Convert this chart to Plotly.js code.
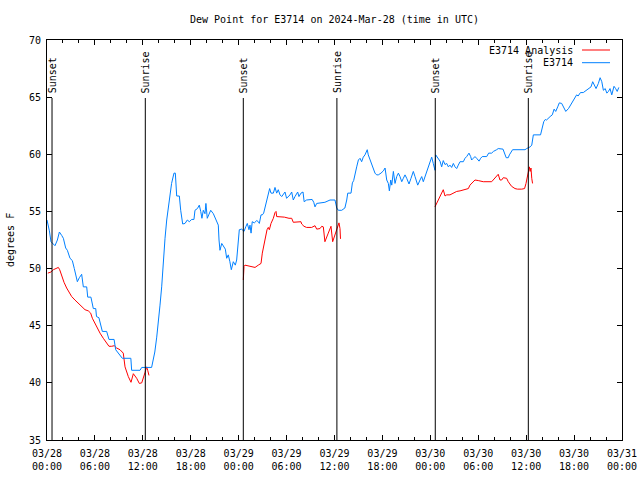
<!DOCTYPE html>
<html>
<head>
<meta charset="utf-8">
<script src="https://cdn.plot.ly/plotly-3.0.1.min.js"></script>
<style>
  html, body { margin: 0; padding: 0; background: #ffffff; }
  #chart { width: 640px; height: 480px; }
</style>
</head>
<body>
<div id="chart"></div>
<script>
// ---- data (hours since 2024-03-28 00:00 UTC, dew point in degrees F) ----
const blueHours = [0,0.3,0.5,0.7,1.0,1.3,1.55,1.84,2.05,2.34,2.55,2.88,3.17,3.42,3.8,4.05,4.34,4.55,4.97,5.1,5.5,5.8,6.1,6.2,6.5,6.93,7.47,7.76,8.4,8.6,9.14,9.43,10.5,10.6,11.65,11.86,13.1,13.3,13.5,13.74,13.94,14.15,14.36,14.57,14.78,14.99,15.19,15.4,15.6,15.9,16.07,16.24,16.57,16.74,16.99,17.28,17.57,17.82,18.12,18.4,18.53,18.83,19.07,19.25,19.4,19.57,19.78,19.9,20.07,20.25,20.5,20.83,21.16,21.45,21.54,21.66,21.88,22.08,22.33,22.5,22.7,22.9,23.08,23.33,23.58,23.75,23.92,24.08,24.38,24.67,24.92,25.08,25.29,25.42,25.55,25.7,25.96,26.26,26.46,26.59,26.8,26.96,27.13,27.3,27.51,27.71,27.88,28.05,28.34,28.55,28.76,28.96,29.18,29.39,29.59,29.8,30.0,30.21,30.43,30.64,30.84,31.05,31.27,31.39,31.55,31.8,32.06,32.2,32.5,32.8,33.2,33.4,33.56,33.77,34.4,34.8,35.44,36.06,36.28,36.48,36.9,37.3,37.53,37.66,38.07,38.24,38.4,38.57,38.78,38.99,39.2,39.4,39.6,39.82,40.1,40.23,40.44,40.65,40.86,41.07,41.28,41.49,41.82,42.12,42.33,42.54,42.74,42.87,43.04,43.17,43.37,43.58,43.79,44.0,44.2,44.42,44.62,44.83,45.04,45.33,45.58,45.87,46.08,46.29,46.42,46.71,46.92,47.12,47.33,47.54,47.75,47.96,48.17,48.37,48.58,48.67,48.92,49.21,49.42,49.62,49.84,50.05,50.26,50.46,50.67,50.88,51.09,51.3,51.5,51.72,52.13,52.34,52.55,52.84,53.05,53.17,53.38,53.59,53.8,54.1,54.3,54.5,55.06,55.3,55.68,55.9,56.3,56.5,57.1,57.3,57.5,57.76,57.9,58.3,59.86,60.06,60.5,60.7,60.9,61.8,62.07,62.2,62.4,62.55,63.0,63.27,63.5,63.7,63.95,64.15,64.45,64.65,64.96,65.3,65.57,65.9,66.32,66.5,66.8,67.15,67.57,67.86,68.12,68.33,68.54,68.75,69.04,69.26,69.47,69.67,69.9,70.1,70.3,70.5,70.72,71.0,71.2,71.4,71.6];
const blueDew = [54.25,53.3,52.35,52.2,52.0,52.5,53.2,52.9,52.65,51.8,51.6,50.9,50.7,50.0,48.85,49.2,49.5,48.4,48.4,47.5,47.5,46.5,46.5,45.8,45.7,44.5,44.5,43.8,43.8,42.9,42.4,42.15,42.15,41.1,41.1,41.35,41.35,42.0,42.7,44.0,45.2,46.8,48.4,50.75,52.65,54.25,55.4,56.45,57.45,58.35,58.35,56.35,56.35,55.1,53.9,53.95,54.25,54.1,54.3,54.3,55.1,55.25,55.55,55.0,54.4,55.1,54.8,55.7,54.4,54.7,55.1,54.8,54.3,53.8,52.5,51.6,52.2,52.0,51.7,50.9,51.2,50.6,49.9,50.6,50.3,50.75,51.9,53.4,53.45,53.25,53.7,53.95,53.4,53.8,53.1,54.1,54.0,54.2,54.1,53.95,54.7,54.7,54.85,55.4,56.0,56.7,57.0,56.6,56.6,57.1,56.6,56.9,56.45,56.3,56.5,56.7,56.15,56.3,56.45,56.7,56.0,56.3,56.6,56.7,56.3,56.6,56.7,55.85,56.0,56.05,56.05,55.8,55.4,55.7,55.75,55.8,56.0,56.0,55.3,55.1,55.1,55.3,56.0,56.6,56.6,57.5,57.7,58.35,58.9,59.5,59.65,59.35,59.75,59.95,60.4,59.95,59.5,59.05,58.6,58.35,58.2,58.2,58.35,58.55,58.8,57.75,57.45,56.8,57.75,57.3,58.5,57.45,58.05,58.35,58.05,57.6,57.9,58.2,57.9,57.4,57.9,58.5,58.05,57.6,57.3,57.75,58.05,57.6,58.05,58.5,58.9,59.35,59.75,59.2,58.6,59.95,59.65,59.4,58.9,59.45,59.1,59.2,58.9,59.05,58.85,59.2,58.9,58.75,59.05,59.35,59.35,59.65,59.8,60.1,59.8,59.5,59.65,59.8,59.65,59.4,59.65,59.8,59.8,60.1,60.1,60.25,60.4,60.5,60.45,60.1,59.7,59.7,59.95,60.4,60.4,60.5,60.65,60.8,61.7,61.7,62.4,62.85,63.05,63.0,63.3,63.45,63.95,63.75,64.15,64.5,64.45,64.15,63.75,64.0,64.3,64.75,65.2,65.1,65.4,65.4,65.6,65.7,65.9,66.35,66.05,65.75,66.2,66.7,66.35,65.6,65.75,65.35,65.5,65.75,65.2,65.95,65.75,65.5,65.85];

const redHours = [0.1,0.5,0.8,1.08,1.42,1.59,1.84,2.13,2.46,2.75,3.09,3.5,3.92,4.34,4.76,5.17,5.47,5.68,6.0,6.34,6.64,7.05,7.47,7.76,8.1,8.43,8.72,9.14,9.55,9.77,10.18,10.52,10.81,11.23,11.56,11.86,12.27,12.48,12.61,12.77,
  18,
  24.58,24.67,24.79,25.42,26.05,26.46,26.8,26.96,27.21,27.38,27.55,27.71,27.84,28.05,28.34,28.55,28.68,28.76,29.18,29.72,30.3,30.64,30.84,31.47,31.8,31.89,32.18,32.5,33.14,33.56,33.77,34.18,34.4,34.6,34.8,35.22,35.56,35.77,36.06,36.28,36.4,36.56,36.69,36.75,
  42,
  48.58,48.8,49.12,49.42,49.62,49.84,50.05,50.46,50.88,51.3,51.72,52.13,52.46,52.76,52.96,53.3,53.59,54.0,54.63,55.68,56.1,56.5,56.72,56.93,57.13,57.55,57.76,58.17,58.6,58.9,59.45,59.8,59.98,60.15,60.27,60.4,60.5,60.6,60.7,60.8];
const redDew = [49.6,49.7,49.9,50.0,50.1,49.9,49.35,48.8,48.3,47.9,47.55,47.25,46.95,46.65,46.4,46.3,46.1,45.65,45.2,44.7,44.35,43.9,43.5,43.2,43.2,43.25,43.05,42.9,42.6,41.4,40.55,40.05,40.8,40.4,39.95,40.0,40.9,41.4,41.1,40.65,
  null,
  49.0,50.2,50.3,50.2,50.1,50.3,50.45,51.35,52.35,52.8,53.4,53.6,53.4,53.95,54.4,54.9,55.0,54.55,54.55,54.5,54.4,54.4,54.05,54.1,54.1,53.9,53.7,53.6,53.6,53.75,53.45,53.5,53.7,53.65,52.35,53.1,53.7,52.35,52.95,53.4,53.8,54.0,53.5,52.6,
  null,
  55.4,55.7,56.25,56.6,56.9,56.35,56.45,56.45,56.6,56.75,56.8,56.9,56.95,57.0,57.3,57.5,57.75,57.7,57.6,57.6,57.9,58.25,57.75,57.75,57.95,57.9,57.6,57.2,57.0,56.95,56.95,57.0,57.45,58.05,58.55,58.9,58.5,58.8,57.9,57.45];

const sunEventHours = [0.63, 12.31, 24.58, 36.3, 48.62, 60.27];
const sunEventLabels = ["Sunset", "Sunrise", "Sunset", "Sunrise", "Sunset", "Sunrise"];

const xTickVals = [0,6,12,18,24,30,36,42,48,54,60,66,72];
const xTickText = ["03/28<br>00:00","03/28<br>06:00","03/28<br>12:00","03/28<br>18:00",
                   "03/29<br>00:00","03/29<br>06:00","03/29<br>12:00","03/29<br>18:00",
                   "03/30<br>00:00","03/30<br>06:00","03/30<br>12:00","03/30<br>18:00",
                   "03/31<br>00:00"];

const seriesNames = ["E3714 Analysis", "E3714"];
const seriesColors = ["#ff0000", "#0080ff"];

// ---- chart ----
const FONT = "DejaVu Sans Mono, Liberation Mono, monospace";

const traces = [
  { x: redHours, y: redDew, name: seriesNames[0], type: "scatter", mode: "lines",
    line: { color: seriesColors[0], width: 1 }, connectgaps: false, showlegend: false },
  { x: blueHours, y: blueDew, name: seriesNames[1], type: "scatter", mode: "lines",
    line: { color: seriesColors[1], width: 1 }, showlegend: false }
];

const shapes = [];
const annotations = [];
sunEventHours.forEach((h, i) => {
  shapes.push({ type: "line", xref: "x", yref: "paper", x0: h, x1: h, y0: 0, y1: 0.855,
                line: { color: "#000000", width: 1 } });
  annotations.push({ xref: "x", yref: "paper", x: h, y: 0.862, text: sunEventLabels[i],
                     textangle: -90, showarrow: false, xanchor: "center", yanchor: "bottom",
                     font: { family: FONT, size: 10, color: "#000" } });
});

// custom legend (text right-aligned, sample line to the right)
seriesNames.forEach((n, i) => {
  const ypx = 50 + i * 12.7;
  const yp = (440 - ypx) / 400;
  annotations.push({ xref: "paper", yref: "paper", x: (575 - 47) / 575, y: yp, text: n,
                     showarrow: false, xanchor: "right", yanchor: "middle",
                     font: { family: FONT, size: 10, color: "#000" } });
  shapes.push({ type: "line", xref: "paper", yref: "paper",
                x0: (582 - 47) / 575, x1: (610 - 47) / 575, y0: yp, y1: yp,
                line: { color: seriesColors[i], width: 1 } });
});

// y-axis title
annotations.push({ xref: "paper", yref: "paper", x: (10 - 47) / 575, y: 0.5, text: "degrees F",
                   textangle: -90, showarrow: false, xanchor: "center", yanchor: "middle",
                   font: { family: FONT, size: 10, color: "#000" } });

const layout = {
  width: 640, height: 480,
  margin: { l: 47, r: 18, t: 40, b: 40, pad: 0 },
  paper_bgcolor: "#ffffff", plot_bgcolor: "#ffffff",
  font: { family: FONT, size: 10, color: "#000000" },
  title: { text: "Dew Point for E3714 on 2024-Mar-28 (time in UTC)", x: 0.5, xref: "paper",
           y: 1 - 19 / 480, yanchor: "middle", font: { family: FONT, size: 10, color: "#000" } },
  showlegend: false,
  xaxis: {
    range: [0, 72], tickmode: "array", tickvals: xTickVals, ticktext: xTickText,
    ticks: "inside", ticklen: 5, tickcolor: "#000", tickwidth: 1, ticklabelstandoff: 4,
    minor: { dtick: 2, tick0: 0, ticks: "inside", ticklen: 3, tickcolor: "#000", tickwidth: 1, showgrid: false },
    showgrid: false, zeroline: false, showline: true, linecolor: "#000", linewidth: 1, mirror: "allticks",
    tickfont: { family: FONT, size: 10, color: "#000" }, automargin: false
  },
  yaxis: {
    range: [35, 70], dtick: 5, tick0: 35,
    ticks: "inside", ticklen: 5, tickcolor: "#000", tickwidth: 1, ticklabelstandoff: 3,
    showgrid: false, zeroline: false, showline: true, linecolor: "#000", linewidth: 1, mirror: "allticks",
    tickfont: { family: FONT, size: 10, color: "#000" }, automargin: false
  },
  shapes: shapes,
  annotations: annotations
};

Plotly.newPlot("chart", traces, layout, { staticPlot: true, displayModeBar: false });
</script>
</body>
</html>
